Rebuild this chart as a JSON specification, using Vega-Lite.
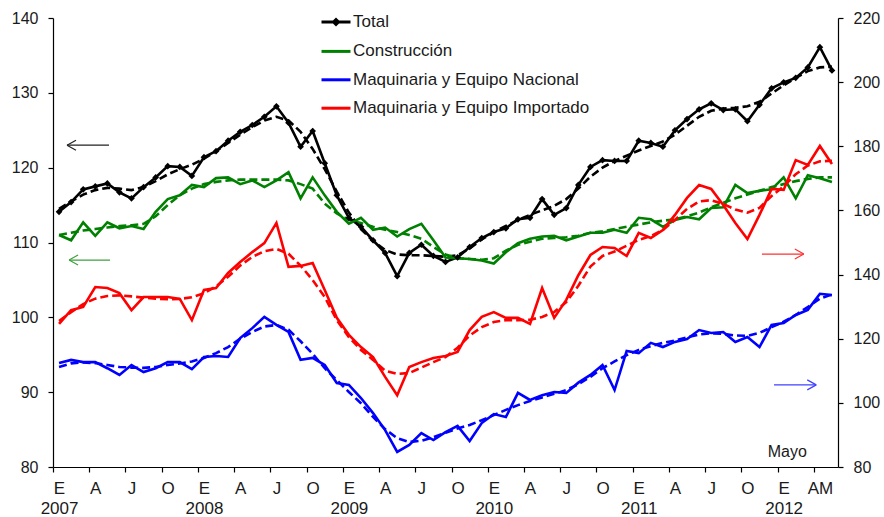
{
"$schema": "https://vega.github.io/schema/vega-lite/v6.json",
"width": 785, "height": 449,
"autosize": {"type": "none"},
"padding": {"left": 53, "top": 18, "right": 46, "bottom": 50},
"config": {"view": {"stroke": null}, "font": "Liberation Sans",
  "axis": {"domainColor": "#000", "tickColor": "#000", "labelColor": "#1a1a1a", "labelFont": "Liberation Sans", "labelFontSize": 16, "grid": false, "tickSize": 5, "domainWidth": 1.2, "tickWidth": 1.2, "labelOverlap": false, "labelFlush": false},
  "legend": {"orient": "none", "legendX": 267, "legendY": -12, "symbolType": "stroke", "symbolSize": 841, "symbolStrokeWidth": 3, "labelFontSize": 17, "labelFont": "Liberation Sans", "labelColor": "#1a1a1a", "rowPadding": 4.4, "padding": 0, "labelOffset": 1, "labelLimit": 400}},
"datasets": {
"obs": [
{"m":0,"T":114.1,"C":111.0,"N":112.4,"I":124.6},
{"m":1,"T":115.4,"C":110.3,"N":113.4,"I":128.9},
{"m":2,"T":117.1,"C":112.7,"N":112.7,"I":129.9},
{"m":3,"T":117.5,"C":110.9,"N":112.7,"I":136.1},
{"m":4,"T":117.9,"C":112.7,"N":110.8,"I":135.8},
{"m":5,"T":116.7,"C":111.9,"N":108.7,"I":134.2},
{"m":6,"T":115.9,"C":112.2,"N":111.8,"I":128.9},
{"m":7,"T":117.4,"C":111.8,"N":109.6,"I":133.0},
{"m":8,"T":118.7,"C":114.1,"N":110.8,"I":133.0},
{"m":9,"T":120.2,"C":115.8,"N":112.7,"I":133.0},
{"m":10,"T":120.1,"C":116.3,"N":112.7,"I":132.4},
{"m":11,"T":118.9,"C":117.7,"N":110.5,"I":125.8},
{"m":12,"T":121.4,"C":117.4,"N":114.3,"I":135.2},
{"m":13,"T":122.2,"C":118.6,"N":114.6,"I":135.8},
{"m":14,"T":123.6,"C":118.7,"N":114.3,"I":140.5},
{"m":15,"T":124.8,"C":117.8,"N":120.2,"I":143.9},
{"m":16,"T":125.7,"C":118.3,"N":123.3,"I":147.0},
{"m":17,"T":126.8,"C":117.4,"N":126.8,"I":149.8},
{"m":18,"T":128.2,"C":118.3,"N":124.3,"I":156.1},
{"m":19,"T":126.0,"C":119.4,"N":122.1,"I":142.4},
{"m":20,"T":122.8,"C":115.9,"N":113.4,"I":142.7},
{"m":21,"T":124.9,"C":118.7,"N":114.0,"I":143.6},
{"m":22,"T":120.6,"C":116.3,"N":111.8,"I":135.2},
{"m":23,"T":116.3,"C":114.1,"N":106.2,"I":126.5},
{"m":24,"T":113.3,"C":112.5,"N":105.6,"I":121.2},
{"m":25,"T":112.1,"C":113.3,"N":101.5,"I":117.4},
{"m":26,"T":110.3,"C":111.7,"N":96.8,"I":114.3},
{"m":27,"T":108.6,"C":112.0,"N":91.5,"I":108.1},
{"m":28,"T":105.5,"C":110.8,"N":84.7,"I":102.4},
{"m":29,"T":108.6,"C":111.8,"N":86.9,"I":111.2},
{"m":30,"T":109.7,"C":112.5,"N":90.6,"I":112.7},
{"m":31,"T":108.2,"C":110.3,"N":88.4,"I":114.0},
{"m":32,"T":107.4,"C":108.0,"N":90.9,"I":114.6},
{"m":33,"T":108.0,"C":107.9,"N":92.8,"I":115.9},
{"m":34,"T":109.4,"C":107.8,"N":88.1,"I":122.7},
{"m":35,"T":110.6,"C":107.6,"N":93.7,"I":126.8},
{"m":36,"T":111.4,"C":107.2,"N":96.5,"I":128.3},
{"m":37,"T":111.9,"C":108.7,"N":95.6,"I":126.5},
{"m":38,"T":113.1,"C":109.9,"N":103.1,"I":126.5},
{"m":39,"T":113.3,"C":110.5,"N":100.9,"I":124.6},
{"m":40,"T":115.8,"C":110.8,"N":102.4,"I":135.8},
{"m":41,"T":113.7,"C":110.9,"N":103.4,"I":126.5},
{"m":42,"T":114.6,"C":110.3,"N":103.1,"I":132.1},
{"m":43,"T":117.7,"C":110.8,"N":106.3,"I":139.8},
{"m":44,"T":120.1,"C":111.3,"N":108.7,"I":146.1},
{"m":45,"T":121.0,"C":111.3,"N":111.8,"I":148.6},
{"m":46,"T":120.9,"C":111.7,"N":104.0,"I":148.3},
{"m":47,"T":120.9,"C":111.3,"N":116.2,"I":145.8},
{"m":48,"T":123.6,"C":113.3,"N":115.5,"I":153.0},
{"m":49,"T":123.3,"C":113.1,"N":118.7,"I":151.4},
{"m":50,"T":122.8,"C":112.1,"N":117.4,"I":153.9},
{"m":51,"T":125.0,"C":113.0,"N":119.0,"I":158.6},
{"m":52,"T":126.5,"C":113.4,"N":119.9,"I":163.9},
{"m":53,"T":127.8,"C":113.1,"N":122.7,"I":167.9},
{"m":54,"T":128.6,"C":114.6,"N":121.8,"I":166.7},
{"m":55,"T":127.7,"C":114.7,"N":122.1,"I":161.7},
{"m":56,"T":127.8,"C":117.7,"N":119.0,"I":156.1},
{"m":57,"T":126.2,"C":116.6,"N":120.5,"I":151.1},
{"m":58,"T":128.4,"C":116.9,"N":117.4,"I":158.6},
{"m":59,"T":130.6,"C":117.1,"N":124.3,"I":166.7},
{"m":60,"T":131.4,"C":118.7,"N":124.9,"I":166.4},
{"m":61,"T":132.0,"C":115.9,"N":127.4,"I":175.7},
{"m":62,"T":133.4,"C":119.0,"N":129.0,"I":174.2},
{"m":63,"T":136.1,"C":118.6,"N":134.0,"I":180.1},
{"m":64,"T":133.0,"C":118.1,"N":133.6,"I":174.5}
],
"tend": [
{"m":0,"T":114.5,"C":111.0,"N":111.2,"I":125.5},
{"m":1,"T":115.5,"C":111.3,"N":112.3,"I":128.3},
{"m":2,"T":116.4,"C":111.6,"N":112.6,"I":130.8},
{"m":3,"T":117.0,"C":111.8,"N":112.4,"I":132.5},
{"m":4,"T":117.3,"C":112.0,"N":111.8,"I":133.3},
{"m":5,"T":117.2,"C":112.2,"N":111.2,"I":133.5},
{"m":6,"T":117.0,"C":112.3,"N":111.0,"I":133.2},
{"m":7,"T":117.4,"C":112.5,"N":110.9,"I":132.8},
{"m":8,"T":118.2,"C":113.5,"N":111.2,"I":132.5},
{"m":9,"T":119.1,"C":115.0,"N":111.8,"I":132.3},
{"m":10,"T":119.8,"C":116.3,"N":112.3,"I":132.4},
{"m":11,"T":120.4,"C":117.2,"N":112.9,"I":132.9},
{"m":12,"T":121.2,"C":117.8,"N":114.0,"I":134.2},
{"m":13,"T":122.2,"C":118.1,"N":115.5,"I":136.3},
{"m":14,"T":123.3,"C":118.3,"N":117.4,"I":139.3},
{"m":15,"T":124.4,"C":118.4,"N":120.0,"I":142.8},
{"m":16,"T":125.4,"C":118.4,"N":122.1,"I":145.5},
{"m":17,"T":126.3,"C":118.4,"N":123.8,"I":147.3},
{"m":18,"T":126.8,"C":118.4,"N":124.3,"I":148.0},
{"m":19,"T":126.3,"C":118.3,"N":122.8,"I":146.5},
{"m":20,"T":124.8,"C":117.8,"N":119.2,"I":142.8},
{"m":21,"T":122.5,"C":117.2,"N":115.3,"I":138.3},
{"m":22,"T":119.8,"C":115.2,"N":110.8,"I":133.0},
{"m":23,"T":116.8,"C":113.9,"N":107.1,"I":125.8},
{"m":24,"T":114.0,"C":113.0,"N":103.4,"I":120.5},
{"m":25,"T":111.8,"C":112.6,"N":99.9,"I":116.5},
{"m":26,"T":110.2,"C":112.1,"N":95.6,"I":113.4},
{"m":27,"T":109.0,"C":111.7,"N":91.8,"I":110.0},
{"m":28,"T":108.4,"C":111.4,"N":89.0,"I":109.0},
{"m":29,"T":108.3,"C":111.0,"N":87.8,"I":109.3},
{"m":30,"T":108.3,"C":110.5,"N":88.2,"I":111.0},
{"m":31,"T":108.2,"C":109.4,"N":89.3,"I":112.7},
{"m":32,"T":108.1,"C":108.4,"N":90.7,"I":114.3},
{"m":33,"T":108.3,"C":107.9,"N":92.0,"I":117.2},
{"m":34,"T":109.2,"C":107.8,"N":93.1,"I":121.0},
{"m":35,"T":110.4,"C":107.7,"N":94.6,"I":123.6},
{"m":36,"T":111.4,"C":107.9,"N":96.2,"I":125.2},
{"m":37,"T":112.2,"C":108.9,"N":97.8,"I":125.8},
{"m":38,"T":113.0,"C":109.7,"N":99.3,"I":125.8},
{"m":39,"T":113.7,"C":110.1,"N":100.6,"I":125.9},
{"m":40,"T":114.3,"C":110.5,"N":101.7,"I":126.8},
{"m":41,"T":114.9,"C":110.6,"N":102.8,"I":128.3},
{"m":42,"T":115.8,"C":110.7,"N":104.0,"I":131.4},
{"m":43,"T":117.2,"C":110.9,"N":105.8,"I":136.5},
{"m":44,"T":118.8,"C":111.3,"N":108.1,"I":142.5},
{"m":45,"T":120.0,"C":111.5,"N":110.8,"I":145.8},
{"m":46,"T":120.9,"C":111.8,"N":112.9,"I":147.2},
{"m":47,"T":121.6,"C":112.1,"N":114.9,"I":149.0},
{"m":48,"T":122.3,"C":112.4,"N":116.5,"I":150.8},
{"m":49,"T":122.9,"C":112.7,"N":117.7,"I":152.0},
{"m":50,"T":123.5,"C":112.9,"N":118.7,"I":153.9},
{"m":51,"T":124.4,"C":113.1,"N":119.4,"I":157.0},
{"m":52,"T":125.6,"C":113.5,"N":120.4,"I":160.5},
{"m":53,"T":126.8,"C":114.0,"N":121.3,"I":162.8},
{"m":54,"T":127.6,"C":114.7,"N":121.7,"I":163.2},
{"m":55,"T":127.9,"C":115.3,"N":121.5,"I":162.0},
{"m":56,"T":128.0,"C":115.9,"N":121.0,"I":160.3},
{"m":57,"T":128.2,"C":116.4,"N":120.9,"I":159.3},
{"m":58,"T":128.8,"C":116.9,"N":121.8,"I":160.8},
{"m":59,"T":129.9,"C":117.4,"N":123.6,"I":164.5},
{"m":60,"T":131.0,"C":117.8,"N":125.3,"I":167.5},
{"m":61,"T":132.0,"C":118.2,"N":127.4,"I":171.3},
{"m":62,"T":132.9,"C":118.5,"N":129.9,"I":174.0},
{"m":63,"T":133.4,"C":118.7,"N":132.5,"I":175.3},
{"m":64,"T":133.5,"C":118.7,"N":133.8,"I":175.5}
]
},
"layer": [
{
"layer": [
{
"data": {"name": "tend"},
"mark": {"type": "line", "strokeWidth": 2.6, "strokeDash": [8, 4], "color": "#000000"},
"encoding": {
"x": {"field": "m", "type": "quantitative", "scale": {"domain": [-0.5, 64.5], "nice": false, "zero": false}, "title": null,
  "axis": {"values": [0,3,6,9,12,15,18,21,24,27,30,33,36,39,42,45,48,51,54,57,60,63], "tickCount": 100,
  "labelExpr": "datum.value == 63 ? 'AM' : (datum.value % 12 == 0 ? ['E', '' + (2007 + datum.value / 12)] : (datum.value % 12 == 3 ? 'A' : (datum.value % 12 == 6 ? 'J' : 'O')))",
  "tickOffset": -6.04, "labelOffset": 6.04, "labelFlush": false, "labelOverlap": false, "labelPadding": 8, "labelLineHeight": 20, "labelBaseline": "top", "labelAlign": "center", "labelFontSize": 17}},
"y": {"field": "T", "type": "quantitative", "scale": {"domain": [80, 140], "nice": false, "zero": false}, "title": null,
  "axis": {"orient": "left", "values": [80,90,100,110,120,130,140], "labelPadding": 10}}
}
},
{
"data": {"name": "tend"},
"mark": {"type": "line", "strokeWidth": 2.6, "strokeDash": [8, 4], "color": "#008000"},
"encoding": {
"x": {"field": "m", "type": "quantitative", "scale": {"domain": [-0.5, 64.5], "nice": false, "zero": false}, "title": null},
"y": {"field": "C", "type": "quantitative", "title": null}
}
},
{
"data": {"name": "obs"},
"transform": [{"fold": ["T", "C"], "as": ["s", "v"]}],
"mark": {"type": "line", "strokeWidth": 2.6},
"encoding": {
"x": {"field": "m", "type": "quantitative", "scale": {"domain": [-0.5, 64.5], "nice": false, "zero": false}, "title": null},
"y": {"field": "v", "type": "quantitative", "title": null},
"color": {"field": "s", "type": "nominal", "scale": {"domain": ["T","C","N","I"], "range": ["#000000","#008000","#0000ff","#ff0000"]},
  "legend": {"title": null, "labelExpr": "datum.value == 'T' ? 'Total' : (datum.value == 'C' ? 'Construcción' : (datum.value == 'N' ? 'Maquinaria y Equipo Nacional' : 'Maquinaria y Equipo Importado'))",
  "encode": {"symbols": {"update": {"shape": {"signal": "datum.value === 'T' ? 'M-1,0L1,0M-0.17,0L0,-0.17L0.17,0L0,0.17Z' : 'stroke'"}, "fill": {"signal": "datum.value === 'T' ? '#000000' : 'transparent'"}}}}}}
}
},
{
"data": {"name": "obs"},
"mark": {"type": "point", "shape": "diamond", "filled": true, "size": 45, "color": "#000", "opacity": 1},
"encoding": {
"x": {"field": "m", "type": "quantitative", "scale": {"domain": [-0.5, 64.5], "nice": false, "zero": false}, "title": null},
"y": {"field": "T", "type": "quantitative", "title": null}
}
},
{
"data": {"values": [{"a": 0.66, "b": 4.14, "v": 123.0}]},
"mark": {"type": "rule", "color": "#222", "strokeWidth": 1.2},
"encoding": {"x": {"field": "a", "type": "quantitative"}, "x2": {"field": "b"}, "y": {"field": "v", "type": "quantitative"}}
},
{
"data": {"values": [{"a": 0.66, "v": 123.0}]},
"mark": {"type": "point", "shape": "M0,0L1.8,-1M0,0L1.8,1", "filled": false, "size": 100, "color": "#222", "strokeWidth": 1.2, "opacity": 1},
"encoding": {"x": {"field": "a", "type": "quantitative"}, "y": {"field": "v", "type": "quantitative"}}
},
{
"data": {"values": [{"a": 0.83, "b": 4.22, "v": 107.65}]},
"mark": {"type": "rule", "color": "#3f9f3f", "strokeWidth": 1.2},
"encoding": {"x": {"field": "a", "type": "quantitative"}, "x2": {"field": "b"}, "y": {"field": "v", "type": "quantitative"}}
},
{
"data": {"values": [{"a": 0.83, "v": 107.65}]},
"mark": {"type": "point", "shape": "M0,0L1.8,-1M0,0L1.8,1", "filled": false, "size": 100, "color": "#3f9f3f", "strokeWidth": 1.2, "opacity": 1},
"encoding": {"x": {"field": "a", "type": "quantitative"}, "y": {"field": "v", "type": "quantitative"}}
},
{
"data": {"values": [{"a": 60.3, "v": 82.0, "t": "Mayo"}]},
"mark": {"type": "text", "fontSize": 16, "font": "Liberation Sans", "color": "#1a1a1a", "align": "center", "baseline": "middle"},
"encoding": {"x": {"field": "a", "type": "quantitative"}, "y": {"field": "v", "type": "quantitative"}, "text": {"field": "t"}}
}
]
},
{
"layer": [
{
"data": {"name": "tend"},
"mark": {"type": "line", "strokeWidth": 2.6, "strokeDash": [8, 4], "color": "#0000ff"},
"encoding": {
"x": {"field": "m", "type": "quantitative", "scale": {"domain": [-0.5, 64.5], "nice": false, "zero": false}, "title": null},
"y": {"field": "N", "type": "quantitative", "scale": {"domain": [80, 220], "nice": false, "zero": false}, "title": null,
  "axis": {"orient": "right", "values": [80,100,120,140,160,180,200,220], "labelPadding": 10}}
}
},
{
"data": {"name": "tend"},
"mark": {"type": "line", "strokeWidth": 2.6, "strokeDash": [8, 4], "color": "#ff0000"},
"encoding": {
"x": {"field": "m", "type": "quantitative", "scale": {"domain": [-0.5, 64.5], "nice": false, "zero": false}, "title": null},
"y": {"field": "I", "type": "quantitative", "title": null}
}
},
{
"data": {"name": "obs"},
"transform": [{"fold": ["N", "I"], "as": ["s", "v"]}],
"mark": {"type": "line", "strokeWidth": 2.6},
"encoding": {
"x": {"field": "m", "type": "quantitative", "scale": {"domain": [-0.5, 64.5], "nice": false, "zero": false}, "title": null},
"y": {"field": "v", "type": "quantitative", "title": null},
"color": {"field": "s", "type": "nominal", "scale": {"domain": ["T","C","N","I"], "range": ["#000000","#008000","#0000ff","#ff0000"]},
  "legend": {"title": null, "labelExpr": "datum.value == 'T' ? 'Total' : (datum.value == 'C' ? 'Construcción' : (datum.value == 'N' ? 'Maquinaria y Equipo Nacional' : 'Maquinaria y Equipo Importado'))",
  "encode": {"symbols": {"update": {"shape": {"signal": "datum.value === 'T' ? 'M-1,0L1,0M-0.17,0L0,-0.17L0.17,0L0,0.17Z' : 'stroke'"}, "fill": {"signal": "datum.value === 'T' ? '#000000' : 'transparent'"}}}}}}
}
},
{
"data": {"values": [{"a": 58.2, "b": 61.67, "v": 146.4}]},
"mark": {"type": "rule", "color": "#ff3030", "strokeWidth": 1.2},
"encoding": {"x": {"field": "a", "type": "quantitative"}, "x2": {"field": "b"}, "y": {"field": "v", "type": "quantitative"}}
},
{
"data": {"values": [{"b": 61.67, "v": 146.4}]},
"mark": {"type": "point", "shape": "M0,0L-1.8,-1M0,0L-1.8,1", "filled": false, "size": 100, "color": "#ff3030", "strokeWidth": 1.2, "opacity": 1},
"encoding": {"x": {"field": "b", "type": "quantitative"}, "y": {"field": "v", "type": "quantitative"}}
},
{
"data": {"values": [{"a": 59.2, "b": 62.7, "v": 105.6}]},
"mark": {"type": "rule", "color": "#4040ff", "strokeWidth": 1.2},
"encoding": {"x": {"field": "a", "type": "quantitative"}, "x2": {"field": "b"}, "y": {"field": "v", "type": "quantitative"}}
},
{
"data": {"values": [{"b": 62.7, "v": 105.6}]},
"mark": {"type": "point", "shape": "M0,0L-1.8,-1M0,0L-1.8,1", "filled": false, "size": 100, "color": "#4040ff", "strokeWidth": 1.2, "opacity": 1},
"encoding": {"x": {"field": "b", "type": "quantitative"}, "y": {"field": "v", "type": "quantitative"}}
}
]
}
],
"resolve": {"scale": {"y": "independent"}}
}
